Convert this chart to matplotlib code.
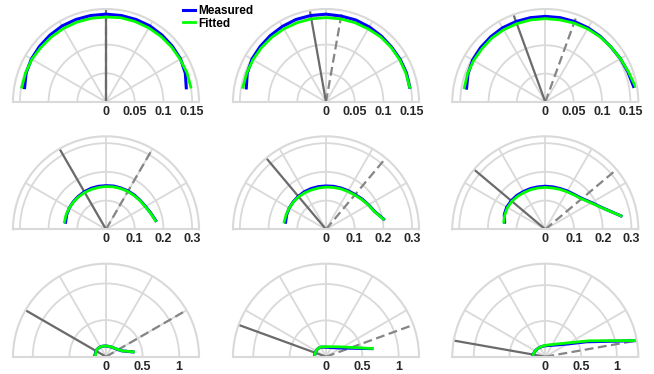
import numpy as np
import matplotlib
matplotlib.use("Agg")
import matplotlib.pyplot as plt
from matplotlib.transforms import offset_copy

plt.rcParams["font.family"] = ["Liberation Sans", "DejaVu Sans"]

# sample directions of the profiles (degrees)
angles_deg = [10, 20, 30, 40, 50, 60, 70, 80, 90, 100, 110, 120, 130, 140, 150, 160, 170]

# half opening of the cone drawn in each panel (solid / dashed limits)
cone_half_angle = [0, 10, 20, 30, 40, 50, 60, 70, 80]

measured_1 = [0.142, 0.147, 0.150, 0.151, 0.152, 0.153, 0.153, 0.153, 0.153, 0.153, 0.153, 0.153, 0.152, 0.151, 0.150, 0.148, 0.144]
fitted_1 = [0.150, 0.150, 0.149, 0.149, 0.149, 0.149, 0.149, 0.149, 0.148, 0.148, 0.148, 0.148, 0.148, 0.148, 0.149, 0.149, 0.149]

measured_2 = [0.148, 0.149, 0.149, 0.149, 0.150, 0.151, 0.152, 0.152, 0.153, 0.153, 0.153, 0.152, 0.151, 0.150, 0.149, 0.146, 0.141]
fitted_2 = [0.148, 0.148, 0.148, 0.148, 0.148, 0.147, 0.147, 0.147, 0.147, 0.147, 0.147, 0.147, 0.147, 0.147, 0.147, 0.147, 0.147]

measured_3 = [0.158, 0.155, 0.153, 0.151, 0.151, 0.151, 0.151, 0.151, 0.151, 0.151, 0.151, 0.151, 0.150, 0.149, 0.148, 0.145, 0.141]
fitted_3 = [0.161, 0.156, 0.153, 0.151, 0.150, 0.149, 0.148, 0.147, 0.147, 0.147, 0.147, 0.147, 0.147, 0.146, 0.146, 0.146, 0.145]

measured_4 = [0.176, 0.166, 0.159, 0.156, 0.155, 0.154, 0.153, 0.153, 0.152, 0.152, 0.152, 0.151, 0.150, 0.149, 0.148, 0.146, 0.143]
fitted_4 = [0.175, 0.165, 0.158, 0.155, 0.153, 0.152, 0.151, 0.150, 0.149, 0.148, 0.148, 0.148, 0.148, 0.148, 0.148, 0.148, 0.147]

measured_5 = [0.204, 0.181, 0.171, 0.164, 0.158, 0.155, 0.153, 0.152, 0.151, 0.151, 0.151, 0.151, 0.150, 0.149, 0.148, 0.146, 0.143]
fitted_5 = [0.203, 0.180, 0.170, 0.162, 0.156, 0.152, 0.150, 0.148, 0.147, 0.146, 0.146, 0.147, 0.148, 0.148, 0.148, 0.148, 0.148]

measured_6 = [0.268, 0.215, 0.186, 0.167, 0.158, 0.154, 0.151, 0.150, 0.150, 0.150, 0.151, 0.152, 0.154, 0.155, 0.155, 0.152, 0.144]
fitted_6 = [0.268, 0.214, 0.184, 0.165, 0.156, 0.151, 0.148, 0.146, 0.146, 0.146, 0.147, 0.148, 0.150, 0.152, 0.152, 0.150, 0.147]

measured_7 = [0.375, 0.232, 0.192, 0.170, 0.158, 0.151, 0.146, 0.145, 0.146, 0.148, 0.151, 0.154, 0.156, 0.157, 0.156, 0.153, 0.152]
fitted_7 = [0.380, 0.235, 0.195, 0.172, 0.160, 0.152, 0.147, 0.146, 0.146, 0.148, 0.151, 0.154, 0.156, 0.157, 0.155, 0.150, 0.145]

measured_8 = [0.640, 0.345, 0.240, 0.190, 0.162, 0.145, 0.136, 0.131, 0.130, 0.133, 0.140, 0.149, 0.155, 0.158, 0.158, 0.157, 0.157]
fitted_8 = [0.648, 0.374, 0.268, 0.212, 0.179, 0.158, 0.146, 0.139, 0.137, 0.139, 0.145, 0.152, 0.156, 0.158, 0.158, 0.157, 0.155]

measured_9 = [1.290, 0.610, 0.355, 0.262, 0.213, 0.184, 0.168, 0.158, 0.153, 0.150, 0.150, 0.151, 0.154, 0.158, 0.162, 0.167, 0.174]
fitted_9 = [1.300, 0.650, 0.390, 0.285, 0.230, 0.196, 0.177, 0.165, 0.158, 0.153, 0.151, 0.152, 0.154, 0.158, 0.162, 0.167, 0.172]

measured = [measured_1, measured_2, measured_3, measured_4, measured_5,
            measured_6, measured_7, measured_8, measured_9]
fitted = [fitted_1, fitted_2, fitted_3, fitted_4, fitted_5,
          fitted_6, fitted_7, fitted_8, fitted_9]

r_max = [0.162, 0.162, 0.164, 0.324, 0.324, 0.324, 1.27, 1.28, 1.30]
r_ticks = [[0.05, 0.1, 0.15], [0.1, 0.2, 0.3], [0.5, 1.0]]
r_tick_labels = [["0", "0.05", "0.1", "0.15"], ["0", "0.1", "0.2", "0.3"], ["0", "0.5", "1"]]

# panel origins in pixels (x from left, y from top) and semicircle radius
W, H = 654, 374
col_x = [106, 326, 545.3]
row_y = [102, 229.3, 356.7]
R = 93

GRID = "#d9d9d9"

fig = plt.figure(figsize=(W / 100, H / 100), dpi=100)
theta = np.deg2rad(angles_deg)

for i in range(9):
    row, col = divmod(i, 3)
    ox, oy = col_x[col], row_y[row]
    # a half polar axes keeps a square box with the wedge centred in it
    y_up = H - oy
    ax = fig.add_axes([(ox - R) / W, (y_up - R / 2) / H, 2 * R / W, 2 * R / H],
                      projection="polar")
    ax.set_thetamin(0)
    ax.set_thetamax(180)
    ax.set_rlim(0, r_max[i])
    ax.set_xticks(np.deg2rad([30, 60, 90, 120, 150]))
    ax.set_yticks(r_ticks[row])
    ax.set_xticklabels([])
    ax.set_yticklabels([])
    ax.tick_params(length=0)
    ax.grid(True, color=GRID, lw=1.3)
    for s in ax.spines.values():
        s.set_color(GRID)
        s.set_linewidth(1.5)

    # radial labels under the baseline
    lab_tr = offset_copy(ax.transData, fig=fig, x=0, y=-3, units="points")
    for r, lab in zip([0] + r_ticks[row], r_tick_labels[row]):
        ax.text(0, r, lab, transform=lab_tr, ha="center", va="top",
                fontsize=9, fontweight="bold", color="#262626")

    # cone limits
    a = cone_half_angle[i]
    ax.plot(np.deg2rad([90 - a, 90 - a]), [0, r_max[i]], color="#858585",
            lw=1.6, ls=(0, (4, 2)))
    ax.plot(np.deg2rad([90 + a, 90 + a]), [0, r_max[i]], color="#6b6b6b", lw=1.6)

    hm, = ax.plot(theta, measured[i], color="#0000ff", lw=2.2)
    hf, = ax.plot(theta, fitted[i], color="#00ff00", lw=2.0)

    if i == 0:
        handles = [hm, hf]

fig.legend(handles, ["Measured", "Fitted"], loc="upper left",
           bbox_to_anchor=(183 / W, 1 - 5 / H), frameon=False, borderpad=0,
           borderaxespad=0, handlelength=1.0, handletextpad=0.3,
           labelspacing=0.05, prop={"size": 8.5, "weight": "bold"})

fig.savefig("out.png", dpi=100)
